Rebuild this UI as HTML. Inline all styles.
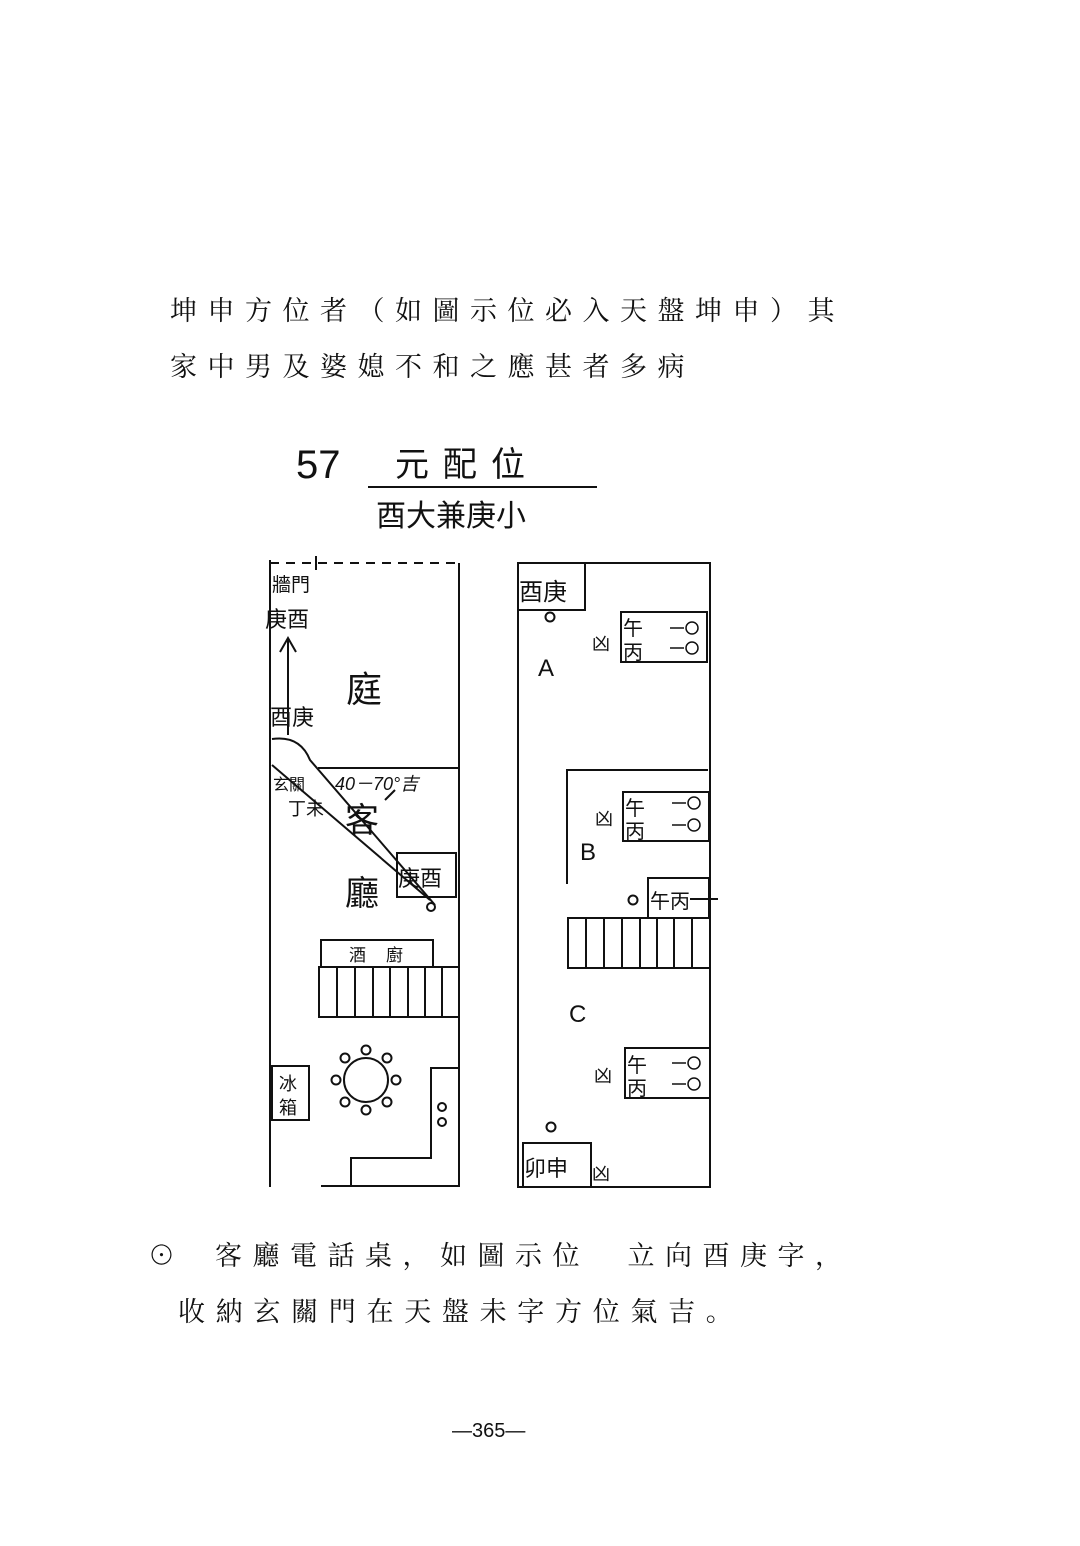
<!DOCTYPE html>
<html><head><meta charset="utf-8"><style>
html,body{margin:0;padding:0;background:#fff;}
svg{display:block;}
text{font-family:"Liberation Sans","Noto Sans CJK TC",sans-serif;fill:#111;}
.c{font-family:"Liberation Serif","Noto Serif CJK SC",serif;}
</style></head><body>
<svg width="1080" height="1546" viewBox="0 0 1080 1546" xmlns="http://www.w3.org/2000/svg">
<g class="c" font-size="27">
<text x="170" y="320" letter-spacing="10.5" class="c">坤申方位者（如圖示位必入天盤坤申）其</text>
<text x="170" y="376" letter-spacing="10.5" class="c">家中男及婆媳不和之應甚者多病</text>
</g>
<text x="296" y="478" font-size="40" font-family="Liberation Sans">57</text>
<text x="395" y="476" font-size="34" letter-spacing="14">元配位</text>
<line x1="368" y1="487" x2="597" y2="487" stroke="#111" stroke-width="2"/>
<text x="376" y="526" font-size="30">酉大兼庚小</text>

<g stroke="#111" stroke-width="2" fill="none">
<line x1="270" y1="560" x2="270" y2="1187"/>
<line x1="459" y1="563" x2="459" y2="1187"/>
<line x1="270" y1="563" x2="459" y2="563" stroke-dasharray="9,7"/>
<line x1="316" y1="556" x2="316" y2="570"/>
<line x1="318" y1="768" x2="459" y2="768"/>
<line x1="321" y1="1186" x2="459" y2="1186"/>
<line x1="288" y1="735" x2="288" y2="640"/>
<polyline points="280,652 288,638 296,652"/>
<path d="M272,739 Q300,735 310,760 L435,905"/>
<line x1="272" y1="765" x2="430" y2="900"/>
<path d="M385,800 L395,790"/>
<rect x="397" y="853" width="59" height="44"/>
<circle cx="431" cy="907" r="4"/>
<rect x="321" y="940" width="112" height="27"/>
<rect x="319" y="967" width="140" height="50"/>
<line x1="337" y1="967" x2="337" y2="1017"/><line x1="355" y1="967" x2="355" y2="1017"/>
<line x1="373" y1="967" x2="373" y2="1017"/><line x1="390" y1="967" x2="390" y2="1017"/>
<line x1="408" y1="967" x2="408" y2="1017"/><line x1="425" y1="967" x2="425" y2="1017"/>
<line x1="442" y1="967" x2="442" y2="1017"/>
<circle cx="366" cy="1080" r="22"/>
<circle cx="366" cy="1050" r="4.5"/><circle cx="366" cy="1110" r="4.5"/>
<circle cx="336" cy="1080" r="4.5"/><circle cx="396" cy="1080" r="4.5"/>
<circle cx="345" cy="1058" r="4.5"/><circle cx="387" cy="1058" r="4.5"/>
<circle cx="345" cy="1102" r="4.5"/><circle cx="387" cy="1102" r="4.5"/>
<rect x="272" y="1066" width="37" height="54"/>
<polyline points="351,1186 351,1158 431,1158 431,1068 459,1068"/>
<circle cx="442" cy="1107" r="4"/><circle cx="442" cy="1122" r="4"/>
<rect x="518" y="563" width="192" height="624"/>
<rect x="518" y="563" width="67" height="47"/>
<circle cx="550" cy="617" r="4.5"/>
<rect x="621" y="612" width="86" height="50"/>
<polyline points="567,884 567,770 708,770"/>
<rect x="623" y="792" width="86" height="49"/>
<rect x="648" y="878" width="61" height="40"/>
<circle cx="633" cy="900" r="4.5"/>
<line x1="690" y1="899" x2="718" y2="899"/>
<rect x="568" y="918" width="142" height="50"/>
<line x1="586" y1="918" x2="586" y2="968"/><line x1="604" y1="918" x2="604" y2="968"/>
<line x1="622" y1="918" x2="622" y2="968"/><line x1="640" y1="918" x2="640" y2="968"/>
<line x1="657" y1="918" x2="657" y2="968"/><line x1="674" y1="918" x2="674" y2="968"/>
<line x1="692" y1="918" x2="692" y2="968"/>
<rect x="625" y="1048" width="85" height="50"/>
<circle cx="551" cy="1127" r="4.5"/>
<rect x="523" y="1143" width="68" height="44"/>
</g>
<g fill="none" stroke="#111" stroke-width="1.5">
<path d="M670,628 h14 M670,648 h14"/><circle cx="692" cy="628" r="6"/><circle cx="692" cy="648" r="6"/>
<path d="M672,803 h14 M672,825 h14"/><circle cx="694" cy="803" r="6"/><circle cx="694" cy="825" r="6"/>
<path d="M672,1063 h14 M672,1084 h14"/><circle cx="694" cy="1063" r="6"/><circle cx="694" cy="1084" r="6"/>
</g>
<g font-size="19">
<text x="272" y="591">牆門</text>
<text x="265" y="627" font-size="22">庚酉</text>
<text x="270" y="725" font-size="22">酉庚</text>
<text x="346" y="702" font-size="36">庭</text>
<text x="273" y="790" font-size="16">玄關</text>
<text x="288" y="815" font-size="18">丁未</text>
<text x="335" y="790" font-size="18" font-style="italic">40－70°吉</text>
<text x="345" y="832" font-size="34">客</text>
<text x="345" y="905" font-size="34">廳</text>
<text x="398" y="886" font-size="22">庚酉</text>
<text x="349" y="961" font-size="17" letter-spacing="20">酒廚</text>
<text x="279" y="1090" font-size="18">冰</text>
<text x="279" y="1114" font-size="18">箱</text>
<text x="519" y="600" font-size="24">酉庚</text>
<text x="623" y="635" font-size="20">午</text><text x="623" y="659" font-size="20">丙</text>
<text x="592" y="650" font-size="18">凶</text>
<text x="538" y="676" font-size="24" font-family="Liberation Sans">A</text>
<text x="625" y="815" font-size="20">午</text><text x="625" y="838" font-size="20">丙</text>
<text x="595" y="825" font-size="18">凶</text>
<text x="580" y="860" font-size="24" font-family="Liberation Sans">B</text>
<text x="650" y="908" font-size="20">午丙</text>
<text x="569" y="1022" font-size="24" font-family="Liberation Sans">C</text>
<text x="627" y="1072" font-size="20">午</text><text x="627" y="1095" font-size="20">丙</text>
<text x="594" y="1082" font-size="18">凶</text>
<text x="524" y="1176" font-size="22">卯申</text>
<text x="592" y="1180" font-size="18">凶</text>
</g>
<g font-size="27" class="c">
<text x="148" y="1265" class="c">⊙</text>
<text x="215" y="1265" letter-spacing="10.5" class="c">客廳電話桌，如圖示位　立向酉庚字，</text>
<text x="178" y="1321" letter-spacing="10.7" class="c">收納玄關門在天盤未字方位氣吉。</text>
</g>
<text x="452" y="1437" font-size="20">—365—</text>
</svg>
</body></html>
